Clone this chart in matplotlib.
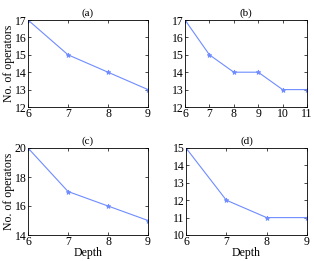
import matplotlib
matplotlib.use("Agg")
from matplotlib import pyplot as plt

# data
depth_a = [6, 7, 8, 9]
ops_a = [17, 15, 14, 13]
depth_b = [6, 7, 8, 9, 10, 11]
ops_b = [17, 15, 14, 14, 13, 13]
depth_c = [6, 7, 8, 9]
ops_c = [20, 17, 16, 15]
depth_d = [6, 7, 8, 9]
ops_d = [15, 12, 11, 11]

plt.rcParams['font.family'] = ['Liberation Serif', 'DejaVu Serif']
plt.rcParams['font.size'] = 8.5

fig = plt.figure(figsize=(3.14, 2.61), dpi=100)
W, H = 314, 261

def make_ax(l, t, r, b):
    return fig.add_axes([l / W, 1 - b / H, (r - l) / W, (b - t) / H])

panels = [
    ((28, 20, 148, 107), depth_a, ops_a, (12, 17), range(12, 18), '(a)'),
    ((185, 20, 307, 107), depth_b, ops_b, (12, 17), range(12, 18), '(b)'),
    ((28, 148, 148, 235), depth_c, ops_c, (14, 20), range(14, 21, 2), '(c)'),
    ((186, 148, 307, 235), depth_d, ops_d, (10, 15), range(10, 16), '(d)'),
]

for i, (box, x, y, ylim, yt, title) in enumerate(panels):
    ax = make_ax(*box)
    ax.plot(x, y, color='#6f8cff', lw=0.8, marker='*', ms=3.5,
            markeredgewidth=0.6)
    ax.set_xlim(x[0], x[-1])
    ax.set_ylim(*ylim)
    ax.set_xticks(x)
    ax.set_yticks(list(yt))
    ax.tick_params(direction='in', length=2, width=0.5, top=True, right=True,
                   pad=1)
    for s in ax.spines.values():
        s.set_linewidth(0.6)
    ax.set_title(title, fontsize=8, pad=3)
    if i % 2 == 0:
        ax.set_ylabel('No. of operators', labelpad=0)
    if i >= 2:
        ax.set_xlabel('Depth', labelpad=-1)

fig.savefig('out.png', dpi=100)
